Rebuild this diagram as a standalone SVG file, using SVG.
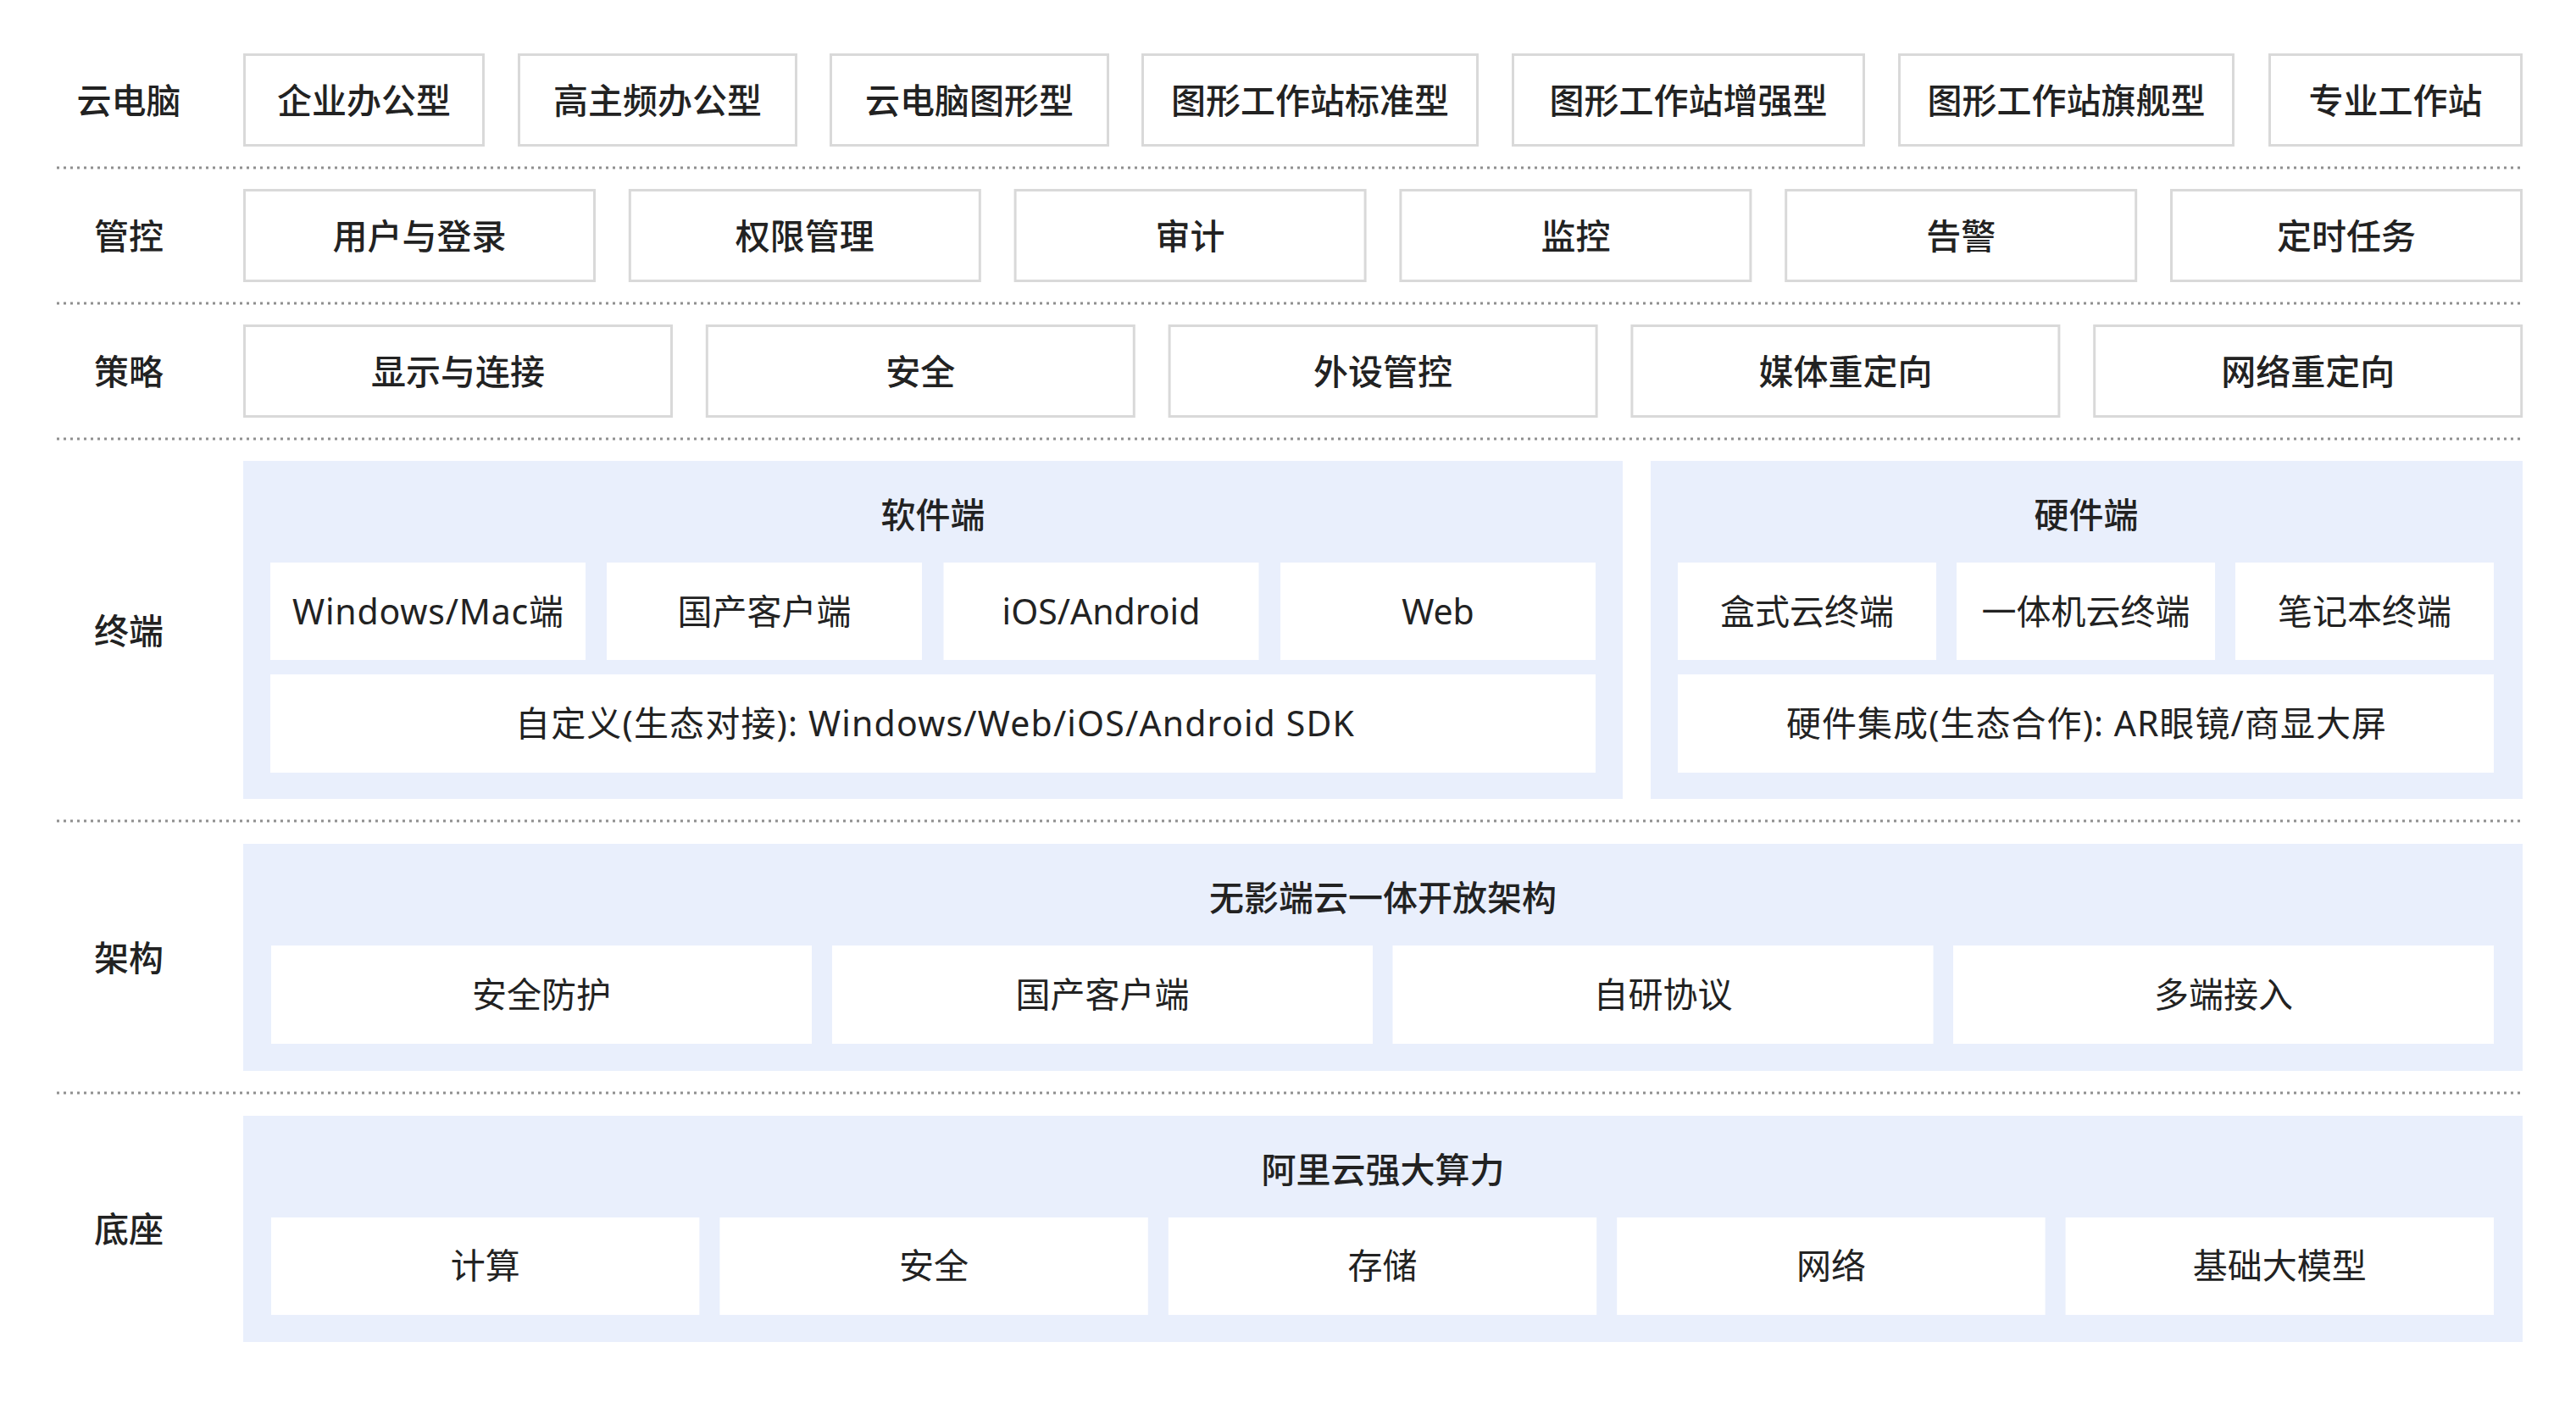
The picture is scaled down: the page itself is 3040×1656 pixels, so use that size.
<svg xmlns="http://www.w3.org/2000/svg" width="3040" height="1656" viewBox="0 0 3040 1656">
<style>
  text { font-family: "Noto Sans", "Noto Sans CJK SC", sans-serif; font-size: 41px; fill: #222; text-anchor: middle; dominant-baseline: central; }
  .lbl { font-weight: 500; }
  .bt { font-weight: 500; }
  .title { font-weight: 500; }
  .it { font-weight: 400; }
  .box { fill: #ffffff; stroke: #d9d9d9; stroke-width: 3; }
  .panel { fill: #e9effc; }
  .inner { fill: #ffffff; }
  .sep { stroke: #8f8f8f; stroke-width: 3; stroke-dasharray: 3 5; fill: none; }
</style>
<rect x="0" y="0" width="3040" height="1656" fill="#ffffff"/>

<g id="separators">
  <line class="sep" x1="67" y1="198" x2="2977" y2="198"/>
  <line class="sep" x1="67" y1="358" x2="2977" y2="358"/>
  <line class="sep" x1="67" y1="518" x2="2977" y2="518"/>
  <line class="sep" x1="67" y1="969" x2="2977" y2="969"/>
  <line class="sep" x1="67" y1="1290" x2="2977" y2="1290"/>
</g>

<g id="labels">
  <text class="lbl" x="152" y="118">云电脑</text>
  <text class="lbl" x="152" y="278">管控</text>
  <text class="lbl" x="152" y="438">策略</text>
  <text class="lbl" x="152" y="744">终端</text>
  <text class="lbl" x="152" y="1130">架构</text>
  <text class="lbl" x="152" y="1450">底座</text>
</g>

<g id="row-cloudpc">
  <g id="n-qiye"><rect class="box" x="288.5" y="64.5" width="282" height="107"/><text class="bt" x="429.5" y="118">企业办公型</text></g>
  <g id="n-gaozhupin"><rect class="box" x="612.5" y="64.5" width="327" height="107"/><text class="bt" x="776" y="118">高主频办公型</text></g>
  <g id="n-tuxingxing"><rect class="box" x="980.5" y="64.5" width="327" height="107"/><text class="bt" x="1144" y="118">云电脑图形型</text></g>
  <g id="n-biaozhun"><rect class="box" x="1348.5" y="64.5" width="395" height="107"/><text class="bt" x="1546" y="118">图形工作站标准型</text></g>
  <g id="n-zengqiang"><rect class="box" x="1785.5" y="64.5" width="414" height="107"/><text class="bt" x="1992.5" y="118">图形工作站增强型</text></g>
  <g id="n-qijian"><rect class="box" x="2241.5" y="64.5" width="394" height="107"/><text class="bt" x="2438.5" y="118">图形工作站旗舰型</text></g>
  <g id="n-zhuanye"><rect class="box" x="2678.5" y="64.5" width="297" height="107"/><text class="bt" x="2827" y="118">专业工作站</text></g>
</g>

<g id="row-control">
  <g id="n-user"><rect class="box" x="288.5" y="224.5" width="413" height="107"/><text class="bt" x="495" y="278">用户与登录</text></g>
  <g id="n-perm"><rect class="box" x="743.3" y="224.5" width="413" height="107"/><text class="bt" x="949.8" y="278">权限管理</text></g>
  <g id="n-audit"><rect class="box" x="1198.1" y="224.5" width="413" height="107"/><text class="bt" x="1404.6" y="278">审计</text></g>
  <g id="n-monitor"><rect class="box" x="1652.9" y="224.5" width="413" height="107"/><text class="bt" x="1859.4" y="278">监控</text></g>
  <g id="n-alarm"><rect class="box" x="2107.7" y="224.5" width="413" height="107"/><text class="bt" x="2314.2" y="278">告警</text></g>
  <g id="n-timer"><rect class="box" x="2562.5" y="224.5" width="413" height="107"/><text class="bt" x="2769" y="278">定时任务</text></g>
</g>

<g id="row-policy">
  <g id="n-display"><rect class="box" x="288.5" y="384.5" width="504" height="107"/><text class="bt" x="540.5" y="438">显示与连接</text></g>
  <g id="n-security"><rect class="box" x="834.3" y="384.5" width="504" height="107"/><text class="bt" x="1086.3" y="438">安全</text></g>
  <g id="n-peripheral"><rect class="box" x="1380.1" y="384.5" width="504" height="107"/><text class="bt" x="1632.1" y="438">外设管控</text></g>
  <g id="n-media"><rect class="box" x="1925.9" y="384.5" width="504" height="107"/><text class="bt" x="2177.9" y="438">媒体重定向</text></g>
  <g id="n-network"><rect class="box" x="2471.7" y="384.5" width="504" height="107"/><text class="bt" x="2723.7" y="438">网络重定向</text></g>
</g>

<g id="software-panel">
  <rect class="panel" x="287" y="544" width="1628" height="399"/>
  <text class="title" x="1101" y="607">软件端</text>
  <g id="n-winmac"><rect class="inner" x="319" y="664" width="372" height="115"/><text class="it" x="505" y="721" textLength="320" lengthAdjust="spacing">Windows/Mac端</text></g>
  <g id="n-guochan"><rect class="inner" x="716" y="664" width="372" height="115"/><text class="it" x="902" y="721">国产客户端</text></g>
  <g id="n-ios"><rect class="inner" x="1113.5" y="664" width="372" height="115"/><text class="it" x="1299.5" y="721">iOS/Android</text></g>
  <g id="n-web"><rect class="inner" x="1511" y="664" width="372" height="115"/><text class="it" x="1697" y="721">Web</text></g>
  <g id="n-sdk"><rect class="inner" x="319" y="796" width="1564" height="116"/><text class="it" x="1103" y="853" textLength="990" lengthAdjust="spacing">自定义(生态对接): Windows/Web/iOS/Android SDK</text></g>
</g>

<g id="hardware-panel">
  <rect class="panel" x="1948" y="544" width="1029" height="399"/>
  <text class="title" x="2462" y="607">硬件端</text>
  <g id="n-box"><rect class="inner" x="1980" y="664" width="305" height="115"/><text class="it" x="2132.5" y="721">盒式云终端</text></g>
  <g id="n-aio"><rect class="inner" x="2309" y="664" width="305" height="115"/><text class="it" x="2461.5" y="721">一体机云终端</text></g>
  <g id="n-laptop"><rect class="inner" x="2638" y="664" width="305" height="115"/><text class="it" x="2790.5" y="721">笔记本终端</text></g>
  <g id="n-hwint"><rect class="inner" x="1980" y="796" width="963" height="116"/><text class="it" x="2462" y="853" textLength="708" lengthAdjust="spacing">硬件集成(生态合作): AR眼镜/商显大屏</text></g>
</g>

<g id="arch-panel">
  <rect class="panel" x="287" y="996" width="2690" height="268"/>
  <text class="title" x="1632" y="1059">无影端云一体开放架构</text>
  <g id="n-protect"><rect class="inner" x="320" y="1116" width="638" height="116"/><text class="it" x="639" y="1173">安全防护</text></g>
  <g id="n-guochan2"><rect class="inner" x="982" y="1116" width="638" height="116"/><text class="it" x="1301" y="1173">国产客户端</text></g>
  <g id="n-protocol"><rect class="inner" x="1643.5" y="1116" width="638" height="116"/><text class="it" x="1962.5" y="1173">自研协议</text></g>
  <g id="n-multi"><rect class="inner" x="2305" y="1116" width="638" height="116"/><text class="it" x="2624" y="1173">多端接入</text></g>
</g>

<g id="base-panel">
  <rect class="panel" x="287" y="1317" width="2690" height="267"/>
  <text class="title" x="1632" y="1380">阿里云强大算力</text>
  <g id="n-compute"><rect class="inner" x="320" y="1437" width="505.4" height="115"/><text class="it" x="572.7" y="1493">计算</text></g>
  <g id="n-sec2"><rect class="inner" x="849.4" y="1437" width="505.4" height="115"/><text class="it" x="1102.1" y="1493">安全</text></g>
  <g id="n-storage"><rect class="inner" x="1378.8" y="1437" width="505.4" height="115"/><text class="it" x="1631.5" y="1493">存储</text></g>
  <g id="n-net2"><rect class="inner" x="1908.2" y="1437" width="505.4" height="115"/><text class="it" x="2160.9" y="1493">网络</text></g>
  <g id="n-llm"><rect class="inner" x="2437.6" y="1437" width="505.4" height="115"/><text class="it" x="2690.3" y="1493">基础大模型</text></g>
</g>
</svg>
